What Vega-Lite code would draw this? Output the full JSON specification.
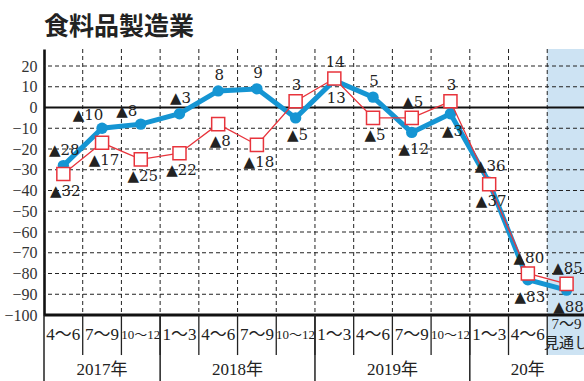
{
  "$schema": "https://vega.github.io/schema/vega-lite/v6.json",
  "width": 540,
  "height": 266,
  "autosize": {"type": "none"},
  "padding": {"left": 44, "top": 49, "right": 0, "bottom": 66},
  "background": "white",
  "config": {"view": {"stroke": null}},
  "title": {"text": "食料品製造業", "anchor": "start", "font": "Noto Sans CJK JP", "fontSize": 25, "fontWeight": "bold", "color": "#222", "offset": 9, "frame": "group"},
  "datasets": {
    "pts": [
      {"i": 0, "s": "実績", "v": -28}, {"i": 1, "s": "実績", "v": -10}, {"i": 2, "s": "実績", "v": -8}, {"i": 3, "s": "実績", "v": -3},
      {"i": 4, "s": "実績", "v": 8}, {"i": 5, "s": "実績", "v": 9}, {"i": 6, "s": "実績", "v": -5}, {"i": 7, "s": "実績", "v": 13},
      {"i": 8, "s": "実績", "v": 5}, {"i": 9, "s": "実績", "v": -12}, {"i": 10, "s": "実績", "v": -3}, {"i": 11, "s": "実績", "v": -36},
      {"i": 12, "s": "実績", "v": -83}, {"i": 13, "s": "実績", "v": -88},
      {"i": 0, "s": "予測", "v": -32}, {"i": 1, "s": "予測", "v": -17}, {"i": 2, "s": "予測", "v": -25}, {"i": 3, "s": "予測", "v": -22},
      {"i": 4, "s": "予測", "v": -8}, {"i": 5, "s": "予測", "v": -18}, {"i": 6, "s": "予測", "v": 3}, {"i": 7, "s": "予測", "v": 14},
      {"i": 8, "s": "予測", "v": -5}, {"i": 9, "s": "予測", "v": -5}, {"i": 10, "s": "予測", "v": 3}, {"i": 11, "s": "予測", "v": -37},
      {"i": 12, "s": "予測", "v": -80}, {"i": 13, "s": "予測", "v": -85}
    ],
    "lbl": [
      {"i": 0, "v": -28, "t": "▲28", "pos": "上"}, {"i": 0, "v": -32, "t": "▲32", "pos": "下"},
      {"i": 1, "v": -10, "t": "▲10", "pos": "左上"}, {"i": 1, "v": -17, "t": "▲17", "pos": "下"},
      {"i": 2, "v": -8, "t": "▲8", "pos": "左上"}, {"i": 2, "v": -25, "t": "▲25", "pos": "下"},
      {"i": 3, "v": -3, "t": "▲3", "pos": "上"}, {"i": 3, "v": -22, "t": "▲22", "pos": "下"},
      {"i": 4, "v": 8, "t": "8", "pos": "上"}, {"i": 4, "v": -8, "t": "▲8", "pos": "下"},
      {"i": 5, "v": 9, "t": "9", "pos": "上"}, {"i": 5, "v": -18, "t": "▲18", "pos": "下"},
      {"i": 6, "v": 3, "t": "3", "pos": "上"}, {"i": 6, "v": -5, "t": "▲5", "pos": "下"},
      {"i": 7, "v": 14, "t": "14", "pos": "上"}, {"i": 7, "v": 13, "t": "13", "pos": "下"},
      {"i": 8, "v": 5, "t": "5", "pos": "上"}, {"i": 8, "v": -5, "t": "▲5", "pos": "下"},
      {"i": 9, "v": -5, "t": "▲5", "pos": "上"}, {"i": 9, "v": -12, "t": "▲12", "pos": "下"},
      {"i": 10, "v": 3, "t": "3", "pos": "上"}, {"i": 10, "v": -3, "t": "▲3", "pos": "下"},
      {"i": 11, "v": -36, "t": "▲36", "pos": "上"}, {"i": 11, "v": -37, "t": "▲37", "pos": "下"},
      {"i": 12, "v": -80, "t": "▲80", "pos": "上"}, {"i": 12, "v": -83, "t": "▲83", "pos": "下"},
      {"i": 13, "v": -85, "t": "▲85", "pos": "上"}, {"i": 13, "v": -88, "t": "▲88", "pos": "下"}
    ],
    "cats": [
      {"i": 0, "q": "4～6"}, {"i": 1, "q": "7～9"}, {"i": 2, "q": "10～12"},
      {"i": 3, "q": "1～3"}, {"i": 4, "q": "4～6"}, {"i": 5, "q": "7～9"}, {"i": 6, "q": "10～12"},
      {"i": 7, "q": "1～3"}, {"i": 8, "q": "4～6"}, {"i": 9, "q": "7～9"}, {"i": 10, "q": "10～12"},
      {"i": 11, "q": "1～3"}, {"i": 12, "q": "4～6"}, {"i": 13, "q": "7～9\n見通し"}
    ],
    "years": [{"c": 1, "y": "2017年"}, {"c": 4.5, "y": "2018年"}, {"c": 8.5, "y": "2019年"}, {"c": 12, "y": "20年"}],
    "vb": [{"b": 0.5}, {"b": 1.5}, {"b": 2.5}, {"b": 3.5}, {"b": 4.5}, {"b": 5.5}, {"b": 6.5}, {"b": 7.5}, {"b": 8.5}, {"b": 9.5}, {"b": 10.5}, {"b": 11.5}, {"b": 12.5}],
    "yb": [{"b": -0.5}, {"b": 2.5}, {"b": 6.5}, {"b": 10.5}],
    "hg": [{"g": -90}, {"g": -80}, {"g": -70}, {"g": -60}, {"g": -50}, {"g": -40}, {"g": -30}, {"g": -20}, {"g": -10}, {"g": 10}, {"g": 20}],
    "shade": [{"from": 12.5, "to": 13.5}]
  },
  "layer": [
    {
      "data": {"name": "shade"},
      "mark": {"type": "rect", "color": "#cde3f3"},
      "encoding": {
        "x": {"field": "from", "type": "quantitative", "scale": {"domain": [-0.5, 13.45], "nice": false, "zero": false}, "axis": null},
        "x2": {"field": "to"},
        "y": {"datum": 28.2, "type": "quantitative", "scale": {"domain": [-100, 28.2], "nice": false, "zero": false},
          "axis": {"values": [-100, -90, -80, -70, -60, -50, -40, -30, -20, -10, 0, 10, 20], "title": null, "grid": false, "ticks": false, "labelFont": "Liberation Serif", "labelFontSize": 16, "labelColor": "#333", "labelPadding": 7, "domainColor": "#111", "domainWidth": 2.6}},
        "y2": {"datum": -119.3}
      }
    },
    {
      "data": {"name": "hg"},
      "mark": {"type": "rule", "color": "#222", "strokeWidth": 1, "strokeDash": [4, 3]},
      "encoding": {
        "y": {"field": "g", "type": "quantitative", "scale": {"domain": [-100, 28.2], "nice": false, "zero": false},
          "axis": {"values": [-100, -90, -80, -70, -60, -50, -40, -30, -20, -10, 0, 10, 20], "title": null, "grid": false, "ticks": false, "labelFont": "Liberation Serif", "labelFontSize": 16, "labelColor": "#333", "labelPadding": 7, "domainColor": "#111", "domainWidth": 2.6}}
      }
    },
    {
      "data": {"name": "vb"},
      "mark": {"type": "rule", "color": "#222", "strokeWidth": 1, "strokeDash": [4, 3]},
      "encoding": {
        "x": {"field": "b", "type": "quantitative", "scale": {"domain": [-0.5, 13.45], "nice": false, "zero": false}, "axis": null}
      }
    },
    {
      "data": {"values": [{}]},
      "mark": {"type": "rule", "color": "#111", "strokeWidth": 2.2},
      "encoding": {
        "y": {"datum": 0, "type": "quantitative", "scale": {"domain": [-100, 28.2], "nice": false, "zero": false},
          "axis": {"values": [-100, -90, -80, -70, -60, -50, -40, -30, -20, -10, 0, 10, 20], "title": null, "grid": false, "ticks": false, "labelFont": "Liberation Serif", "labelFontSize": 16, "labelColor": "#333", "labelPadding": 7, "domainColor": "#111", "domainWidth": 2.6}}
      }
    },
    {
      "data": {"values": [{}]},
      "mark": {"type": "rule", "color": "#111", "strokeWidth": 3},
      "encoding": {
        "y": {"datum": -100, "type": "quantitative", "scale": {"domain": [-100, 28.2], "nice": false, "zero": false},
          "axis": {"values": [-100, -90, -80, -70, -60, -50, -40, -30, -20, -10, 0, 10, 20], "title": null, "grid": false, "ticks": false, "labelFont": "Liberation Serif", "labelFontSize": 16, "labelColor": "#333", "labelPadding": 7, "domainColor": "#111", "domainWidth": 2.6}}
      }
    },
    {
      "data": {"name": "vb"},
      "mark": {"type": "rule", "color": "#222", "strokeWidth": 1.3},
      "encoding": {
        "x": {"field": "b", "type": "quantitative", "scale": {"domain": [-0.5, 13.45], "nice": false, "zero": false}, "axis": null},
        "y": {"datum": -100, "type": "quantitative", "scale": {"domain": [-100, 28.2], "nice": false, "zero": false},
          "axis": {"values": [-100, -90, -80, -70, -60, -50, -40, -30, -20, -10, 0, 10, 20], "title": null, "grid": false, "ticks": false, "labelFont": "Liberation Serif", "labelFontSize": 16, "labelColor": "#333", "labelPadding": 7, "domainColor": "#111", "domainWidth": 2.6}},
        "y2": {"datum": -119.3}
      }
    },
    {
      "data": {"name": "yb"},
      "mark": {"type": "rule", "color": "#222", "strokeWidth": 1.5},
      "encoding": {
        "x": {"field": "b", "type": "quantitative", "scale": {"domain": [-0.5, 13.45], "nice": false, "zero": false}, "axis": null},
        "y": {"datum": -100, "type": "quantitative", "scale": {"domain": [-100, 28.2], "nice": false, "zero": false},
          "axis": {"values": [-100, -90, -80, -70, -60, -50, -40, -30, -20, -10, 0, 10, 20], "title": null, "grid": false, "ticks": false, "labelFont": "Liberation Serif", "labelFontSize": 16, "labelColor": "#333", "labelPadding": 7, "domainColor": "#111", "domainWidth": 2.6}},
        "y2": {"datum": -132}
      }
    },
    {
      "data": {"name": "pts"},
      "transform": [{"filter": "datum.s == '実績'"}],
      "mark": {"type": "line", "color": "#1595d3", "strokeWidth": 5, "point": {"filled": true, "size": 130, "color": "#1595d3"}},
      "encoding": {
        "x": {"field": "i", "type": "quantitative", "scale": {"domain": [-0.5, 13.45], "nice": false, "zero": false}, "axis": null},
        "y": {"field": "v", "type": "quantitative", "scale": {"domain": [-100, 28.2], "nice": false, "zero": false},
          "axis": {"values": [-100, -90, -80, -70, -60, -50, -40, -30, -20, -10, 0, 10, 20], "title": null, "grid": false, "ticks": false, "labelFont": "Liberation Serif", "labelFontSize": 16, "labelColor": "#333", "labelPadding": 7, "domainColor": "#111", "domainWidth": 2.6}}
      }
    },
    {
      "data": {"name": "pts"},
      "transform": [{"filter": "datum.s == '予測'"}],
      "mark": {"type": "line", "color": "#e8343c", "strokeWidth": 1.3, "point": {"shape": "square", "filled": false, "fill": "white", "stroke": "#e8343c", "strokeWidth": 1.5, "size": 170, "opacity": 1}},
      "encoding": {
        "x": {"field": "i", "type": "quantitative", "scale": {"domain": [-0.5, 13.45], "nice": false, "zero": false}, "axis": null},
        "y": {"field": "v", "type": "quantitative", "scale": {"domain": [-100, 28.2], "nice": false, "zero": false},
          "axis": {"values": [-100, -90, -80, -70, -60, -50, -40, -30, -20, -10, 0, 10, 20], "title": null, "grid": false, "ticks": false, "labelFont": "Liberation Serif", "labelFontSize": 16, "labelColor": "#333", "labelPadding": 7, "domainColor": "#111", "domainWidth": 2.6}}
      }
    },
    {
      "data": {"name": "lbl"},
      "transform": [{"filter": "datum.pos == '上'"}],
      "mark": {"type": "text", "font": "DejaVu Serif", "fontSize": 15, "color": "#222", "baseline": "middle", "align": "center", "dy": -16, "dx": 1},
      "encoding": {
        "x": {"field": "i", "type": "quantitative", "scale": {"domain": [-0.5, 13.45], "nice": false, "zero": false}, "axis": null},
        "y": {"field": "v", "type": "quantitative", "scale": {"domain": [-100, 28.2], "nice": false, "zero": false},
          "axis": {"values": [-100, -90, -80, -70, -60, -50, -40, -30, -20, -10, 0, 10, 20], "title": null, "grid": false, "ticks": false, "labelFont": "Liberation Serif", "labelFontSize": 16, "labelColor": "#333", "labelPadding": 7, "domainColor": "#111", "domainWidth": 2.6}},
        "text": {"field": "t"}
      }
    },
    {
      "data": {"name": "lbl"},
      "transform": [{"filter": "datum.pos == '下'"}],
      "mark": {"type": "text", "font": "DejaVu Serif", "fontSize": 15, "color": "#222", "baseline": "middle", "align": "center", "dy": 17, "dx": 2},
      "encoding": {
        "x": {"field": "i", "type": "quantitative", "scale": {"domain": [-0.5, 13.45], "nice": false, "zero": false}, "axis": null},
        "y": {"field": "v", "type": "quantitative", "scale": {"domain": [-100, 28.2], "nice": false, "zero": false},
          "axis": {"values": [-100, -90, -80, -70, -60, -50, -40, -30, -20, -10, 0, 10, 20], "title": null, "grid": false, "ticks": false, "labelFont": "Liberation Serif", "labelFontSize": 16, "labelColor": "#333", "labelPadding": 7, "domainColor": "#111", "domainWidth": 2.6}},
        "text": {"field": "t"}
      }
    },
    {
      "data": {"name": "lbl"},
      "transform": [{"filter": "datum.pos == '左上'"}],
      "mark": {"type": "text", "font": "DejaVu Serif", "fontSize": 15, "color": "#222", "baseline": "middle", "align": "center", "dy": -13, "dx": -14},
      "encoding": {
        "x": {"field": "i", "type": "quantitative", "scale": {"domain": [-0.5, 13.45], "nice": false, "zero": false}, "axis": null},
        "y": {"field": "v", "type": "quantitative", "scale": {"domain": [-100, 28.2], "nice": false, "zero": false},
          "axis": {"values": [-100, -90, -80, -70, -60, -50, -40, -30, -20, -10, 0, 10, 20], "title": null, "grid": false, "ticks": false, "labelFont": "Liberation Serif", "labelFontSize": 16, "labelColor": "#333", "labelPadding": 7, "domainColor": "#111", "domainWidth": 2.6}},
        "text": {"field": "t"}
      }
    },
    {
      "data": {"name": "cats"},
      "transform": [{"filter": "datum.i < 13"}],
      "mark": {"type": "text", "font": "Liberation Serif, Noto Sans CJK JP", "color": "#222", "baseline": "middle", "align": "center"},
      "encoding": {
        "x": {"field": "i", "type": "quantitative", "scale": {"domain": [-0.5, 13.45], "nice": false, "zero": false}, "axis": null},
        "y": {"datum": -109.6, "type": "quantitative", "scale": {"domain": [-100, 28.2], "nice": false, "zero": false},
          "axis": {"values": [-100, -90, -80, -70, -60, -50, -40, -30, -20, -10, 0, 10, 20], "title": null, "grid": false, "ticks": false, "labelFont": "Liberation Serif", "labelFontSize": 16, "labelColor": "#333", "labelPadding": 7, "domainColor": "#111", "domainWidth": 2.6}},
        "text": {"field": "q"},
        "size": {"condition": {"test": "length(datum.q) == 5", "value": 13}, "value": 17}
      }
    },
    {
      "data": {"name": "cats"},
      "transform": [{"filter": "datum.i == 13"}],
      "mark": {"type": "text", "font": "Liberation Serif, Noto Sans CJK JP", "fontSize": 15, "color": "#222", "baseline": "middle", "align": "center", "lineBreak": "\n", "lineHeight": 19, "dy": -11},
      "encoding": {
        "x": {"field": "i", "type": "quantitative", "scale": {"domain": [-0.5, 13.45], "nice": false, "zero": false}, "axis": null},
        "y": {"datum": -109.6, "type": "quantitative", "scale": {"domain": [-100, 28.2], "nice": false, "zero": false},
          "axis": {"values": [-100, -90, -80, -70, -60, -50, -40, -30, -20, -10, 0, 10, 20], "title": null, "grid": false, "ticks": false, "labelFont": "Liberation Serif", "labelFontSize": 16, "labelColor": "#333", "labelPadding": 7, "domainColor": "#111", "domainWidth": 2.6}},
        "text": {"field": "q"}
      }
    },
    {
      "data": {"name": "years"},
      "mark": {"type": "text", "font": "Liberation Serif, Noto Sans CJK JP", "fontSize": 17, "color": "#222", "baseline": "middle", "align": "center"},
      "encoding": {
        "x": {"field": "c", "type": "quantitative", "scale": {"domain": [-0.5, 13.45], "nice": false, "zero": false}, "axis": null},
        "y": {"datum": -126.5, "type": "quantitative", "scale": {"domain": [-100, 28.2], "nice": false, "zero": false},
          "axis": {"values": [-100, -90, -80, -70, -60, -50, -40, -30, -20, -10, 0, 10, 20], "title": null, "grid": false, "ticks": false, "labelFont": "Liberation Serif", "labelFontSize": 16, "labelColor": "#333", "labelPadding": 7, "domainColor": "#111", "domainWidth": 2.6}},
        "text": {"field": "y"}
      }
    }
  ]
}
